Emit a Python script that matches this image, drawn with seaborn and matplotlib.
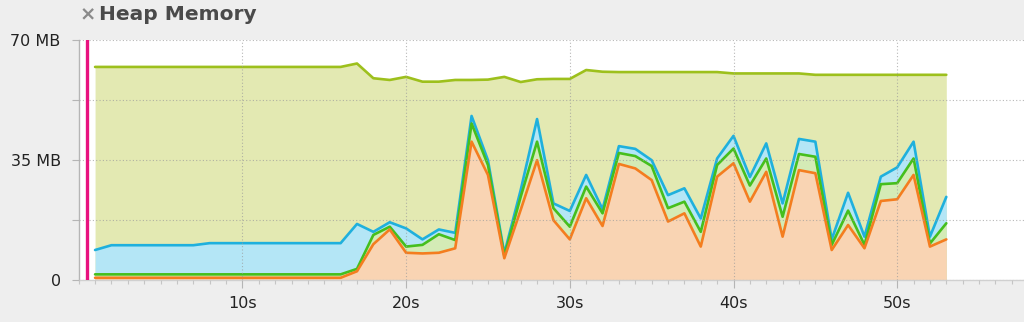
import matplotlib
matplotlib.use("Agg")
import matplotlib.pyplot as plt
import seaborn as sns
from matplotlib.ticker import FixedLocator, MultipleLocator

# ---- data (MB; cumulative line levels) ----
seconds = list(range(1, 54))
total_mb = [62.0] * 16 + [63.0, 58.7, 58.2, 59.1, 57.7, 57.7, 58.2, 58.2, 58.3, 59.1,
                          57.6, 58.4, 58.5, 58.5, 61.1, 60.6] + [60.5] * 7 + [60.1] * 5 + [59.7] * 9
blue_mb = [8.6, 10.0, 10.0, 10.0, 10.0, 10.0, 10.0, 10.6, 10.6, 10.6, 10.6, 10.6, 10.6, 10.6,
           10.6, 10.6, 16.2, 13.9, 16.7, 14.9, 11.7, 14.6, 13.6, 47.7, 34.8, 7.6, 26.1, 46.8,
           22.2, 20.0, 30.5, 20.5, 38.9, 38.1, 34.8, 24.6, 26.6, 17.8, 35.3, 41.9, 29.9, 39.7,
           22.2, 41.0, 40.2, 11.7, 25.3, 12.5, 30.0, 32.7, 40.2, 12.5, 24.1]
green_mb = [1.5] * 16 + [3.1, 13.0, 15.4, 9.6, 10.1, 13.2, 11.5, 45.5, 33.4, 6.9, 24.1, 40.2,
                         20.8, 15.4, 27.1, 19.3, 36.9, 36.0, 33.1, 20.8, 22.7, 13.9, 33.4, 38.2,
                         27.4, 35.3, 18.3, 36.6, 35.8, 10.1, 20.1, 10.1, 27.8, 28.1, 35.3, 10.5, 16.4]
orange_mb = [0.5] * 16 + [2.4, 10.3, 14.6, 7.8, 7.6, 7.8, 9.1, 40.2, 30.5, 6.2, 20.3, 34.8,
                          17.3, 11.7, 23.7, 15.6, 33.7, 32.4, 29.0, 16.9, 19.3, 9.6, 30.0, 33.9,
                          22.7, 31.4, 12.5, 31.9, 31.0, 8.6, 15.9, 9.1, 22.9, 23.4, 30.5, 9.6, 11.7]
marker_time = 0.5
y_ticks = [0, 17.5, 35, 52.5, 70]
y_tick_labels = ["0", "", "35 MB", "", "70 MB"]
x_ticks = [10, 20, 30, 40, 50]
x_tick_labels = ["10s", "20s", "30s", "40s", "50s"]
title = "Heap Memory"

sns.set_theme(style="white")
plt.rcParams['font.family'] = ['DejaVu Sans']

W, H = 1024, 322
fig = plt.figure(figsize=(W / 100, H / 100), dpi=100, facecolor="#eeeeee")
ax = fig.add_axes([78.7 / W, 1 - 279.5 / H, 1 - 78.7 / W, (279.5 - 39.5) / H])
ax.set_facecolor("white")

series = [
    (total_mb, "#e3e9b2", "#9dc01c"),
    (blue_mb, "#b4e6f6", "#1fb0dd"),
    (green_mb, "#d4ebb6", "#45bf1d"),
    (orange_mb, "#f9d4b3", "#f47d1f"),
]
for vals, fill_c, _ in series:
    ax.fill_between(seconds, 0, vals, color=fill_c, linewidth=0, zorder=1)
for vals, _, line_c in series:
    sns.lineplot(x=seconds, y=vals, color=line_c, linewidth=1.9, ax=ax, zorder=2)

ax.axvline(marker_time, color="#e8127f", linewidth=2.4, zorder=4)

ax.set_xlim(0, (W - 78.7) / 16.37)
ax.set_ylim(0, 70)

ax.yaxis.set_major_locator(FixedLocator(y_ticks))
ax.set_yticklabels(y_tick_labels)
ax.xaxis.set_major_locator(FixedLocator(x_ticks))
ax.set_xticklabels(x_tick_labels)
ax.xaxis.set_minor_locator(MultipleLocator(1))

ax.set_axisbelow(False)
ax.grid(True, which="major", linestyle=(0, (1, 2)), color="#9a9a9a", alpha=0.7, linewidth=0.8)

for s in ["top", "right"]:
    ax.spines[s].set_visible(False)
ax.spines["left"].set_color("#b5b5b5")
ax.spines["left"].set_linewidth(1.0)
ax.spines["bottom"].set_color("#d0d0d0")
ax.spines["bottom"].set_linewidth(1.0)

ax.tick_params(axis="y", which="major", left=True, length=5, width=0.8, color="#b5b5b5",
               labelsize=11.5, labelcolor="#222222", pad=8)
ax.tick_params(axis="x", which="major", bottom=True, length=6, width=0.8, color="#b5b5b5",
               labelsize=11.5, labelcolor="#222222", pad=6)
ax.tick_params(axis="x", which="minor", bottom=True, length=3, width=0.8, color="#c5c5c5")
ax.set_xlabel("")
ax.set_ylabel("")

fig.text(80 / W, 1 - 15 / H, "\u00d7", fontsize=14, color="#8a8a8a", fontweight="bold",
         ha="left", va="center")
fig.text(99 / W, 1 - 15 / H, title, fontsize=14.5, color="#4a4a4a", fontweight="bold",
         ha="left", va="center")

fig.savefig("out.png", dpi=100, facecolor=fig.get_facecolor())
